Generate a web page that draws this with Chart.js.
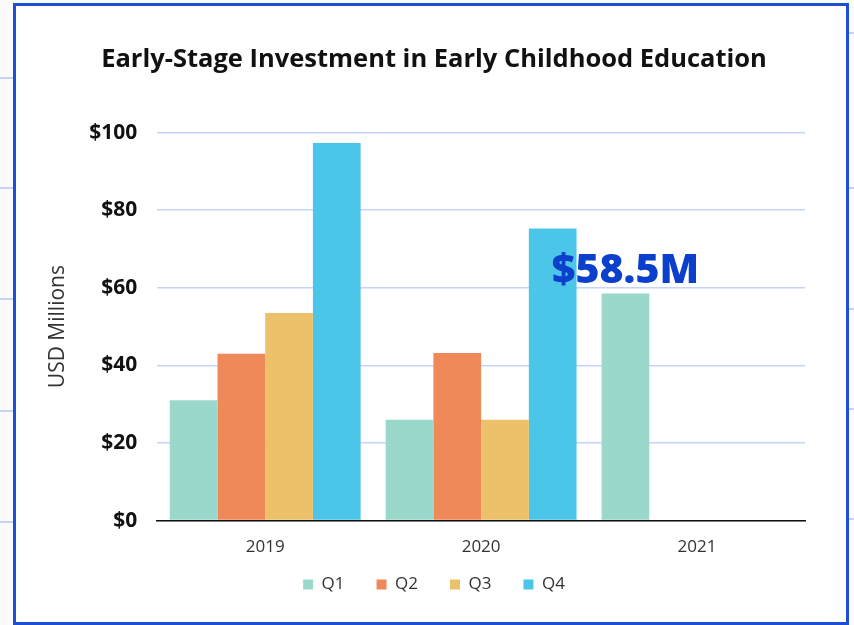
<!DOCTYPE html>
<html>
<head>
<meta charset="utf-8">
<script src="https://cdn.jsdelivr.net/npm/chart.js@4.4.1/dist/chart.umd.min.js"></script>
<style>
  html, body { margin: 0; padding: 0; background: #fbfbfc; }
  #wrap { position: relative; width: 854px; height: 625px; overflow: hidden; }
  #frame {
    position: absolute; left: 13px; top: 3px; width: 830px; height: 616px;
    border: 3px solid #1c4fd1; background: #fff;
  }
  .side { position: absolute; height: 2px; background: #c4d3f7; }
  #box { position: absolute; left: 0; top: 0; width: 854px; height: 625px; }
</style>
</head>
<body>
<div id="wrap">
  <div class="side" style="left:0;width:13px;top:77px"></div>
  <div class="side" style="left:0;width:13px;top:187px"></div>
  <div class="side" style="left:0;width:13px;top:298px"></div>
  <div class="side" style="left:0;width:13px;top:410px"></div>
  <div class="side" style="left:0;width:13px;top:521px"></div>
  <div class="side" style="left:849px;width:5px;top:32px"></div>
  <div class="side" style="left:849px;width:5px;top:187px"></div>
  <div class="side" style="left:849px;width:5px;top:308px"></div>
  <div class="side" style="left:849px;width:5px;top:408px"></div>
  <div class="side" style="left:849px;width:5px;top:518px"></div>
  <div id="frame"></div>
  <div id="box"><canvas id="chart"></canvas></div>
</div>
<script>
// --- Data ---
const years = ['2019', '2020', '2021'];
const quarters = ['Q1', 'Q2', 'Q3', 'Q4'];
const q1 = [31, 26, 58.5];
const q2 = [43, 43.2, null];
const q3 = [53.5, 26, null];
const q4 = [97.3, 75.3, null];
const yTicks = [0, 20, 40, 60, 80, 100];
const callout = { label: '$58.5M', year: '2021', value: 58.5 };

const colors = ['#9ad8cb', '#f0895a', '#edc169', '#4cc6e8'];
const fontFam = '"Open Sans", "Noto Sans", sans-serif';

// --- Callout text above the 2021 bar ---
const calloutPlugin = {
    id: 'callout',
    afterDatasetsDraw(chart) {
        const meta = chart.getDatasetMeta(0);
        const idx = years.indexOf(callout.year);
        const bar = meta.data[idx];
        const y = chart.scales.y.getPixelForValue(callout.value);
        const ctx = chart.ctx;
        ctx.save();
        ctx.font = '800 41px ' + fontFam;
        ctx.fillStyle = '#0b3fcc';
        ctx.textAlign = 'center';
        ctx.textBaseline = 'alphabetic';
        ctx.fillText(callout.label, bar.x, y - 11);
        ctx.restore();
    }
};

// legend sits closer to the axis labels than its item padding allows
const legendLift = {
    id: 'legendLift',
    afterLayout(chart) {
        chart.legend.top -= 21;
        chart.legend.bottom -= 21;
    }
};

const series = [q1, q2, q3, q4];

new Chart(document.getElementById('chart'), {
    type: 'bar',
    data: {
        labels: years,
        datasets: quarters.map((q, i) => ({
            label: q,
            data: series[i],
            backgroundColor: colors[i],
            borderWidth: 0,
            categoryPercentage: 0.884,
            barPercentage: 1.0
        }))
    },
    options: {
        responsive: true,
        maintainAspectRatio: false,
        animation: false,
        layout: { padding: { top: 30, left: 63, right: 49, bottom: 1 } },
        plugins: {
            title: {
                display: true,
                text: 'Early-Stage Investment in Early Childhood Education',
                color: '#111',
                font: { family: fontFam, size: 25.5, weight: 'bold' },
                padding: { top: 14, bottom: 58 }
            },
            legend: {
                position: 'bottom',
                labels: {
                    boxWidth: 10,
                    boxHeight: 10,
                    padding: 32,
                    color: '#333',
                    font: { family: fontFam, size: 17 }
                }
            },
            tooltip: { enabled: false }
        },
        scales: {
            x: {
                grid: { display: false },
                border: { display: true, color: '#111', width: 1.5 },
                ticks: { color: '#333', padding: 8, font: { family: fontFam, size: 17 } }
            },
            y: {
                min: 0,
                max: 100,
                afterBuildTicks(axis) { axis.ticks = yTicks.map(v => ({ value: v })); },
                grid: { color: '#c6d4fa', lineWidth: 1.5, drawTicks: false },
                border: { display: false },
                ticks: {
                    color: '#111',
                    padding: 20,
                    font: { family: fontFam, size: 21, weight: 'bold' },
                    callback: v => '$' + v
                },
                title: {
                    display: true,
                    text: 'USD Millions',
                    color: '#333',
                    padding: { top: -18, bottom: -1 },
                    font: { family: fontFam, size: 21 }
                }
            }
        }
    },
    plugins: [calloutPlugin, legendLift]
});
</script>
</body>
</html>
